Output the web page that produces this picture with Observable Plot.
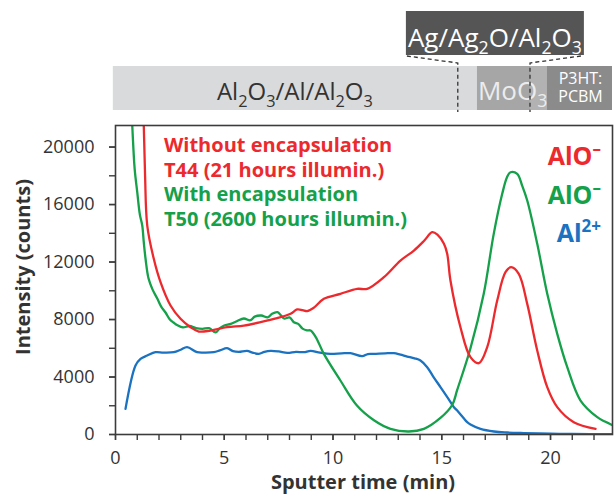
<!DOCTYPE html>
<html><head><meta charset="utf-8">
<script src="https://cdn.jsdelivr.net/npm/d3@7"></script>
<script src="https://cdn.jsdelivr.net/npm/@observablehq/plot@0.6"></script>
<style>
body{margin:0;background:#fff;font-family:"Open Sans",sans-serif;}
#wrap{width:614px;height:496px;}
svg{display:block}
</style></head><body><div id="wrap"></div>
<script>
// ---------- data ----------
const redT = [1.22,1.30,1.36,1.46,1.76,2.07,2.53,2.99,3.45,3.83,4.37,5.13,5.9,6.67,7.43,8.05,8.35,8.6,8.81,9.1,9.58,10.34,11.11,11.57,12.34,13.1,13.72,14.2,14.56,14.8,15.1,15.25,15.4,15.86,16.32,16.71,17.09,17.55,17.93,18.19,18.54,18.93,19.39,19.85,20.31,21.07,22.07];
const redI = [25000,21500,18000,14540,12225,10600,8975,8050,7465,7165,7235,7465,7583,7813,8091,8400,8700,8650,8580,8800,9440,9788,10134,10134,10946,12105,12800,13500,14075,13900,13265,12570,10714,7465,5380,4963,6075,9322,11290,11640,11180,9090,5844,3293,1902,858,394];

const greenT = [0.72,0.77,0.88,1.0,1.12,1.23,1.3,1.38,1.52,1.7,1.92,2.1,2.3,2.5,2.67,2.85,3.1,3.4,3.7,4.0,4.3,4.6,4.8,5.0,5.3,5.6,5.9,6.2,6.4,6.7,7.0,7.2,7.45,7.6,7.75,8.0,8.2,8.4,8.6,8.8,8.97,9.2,9.58,10.34,11.1,11.9,12.64,13.49,14.18,14.94,15.48,15.71,16.32,16.93,17.39,17.78,18.0,18.16,18.47,18.7,18.93,19.39,19.85,20.31,20.77,21.38,22.15,22.5,22.85];
const greenI = [23000,21500,18500,16860,15300,14540,13380,12245,10850,10100,9460,8900,8490,8000,7790,7600,7450,7550,7400,7350,7400,7100,7400,7580,7700,7900,8070,7950,8200,8280,8150,8400,8510,8300,8070,8150,7810,7700,7370,7250,7235,6800,5610,3757,2017,974,394,209,394,1150,2050,3100,6000,9788,13960,16745,17900,18250,18135,17300,16280,13265,9790,7005,4685,2365,1205,900,650];

const blueT = [0.46,0.92,1.15,1.46,1.84,2.2,2.68,3.0,3.29,3.75,4.1,4.52,4.8,5.13,5.4,5.67,6.05,6.3,6.59,6.85,7.13,7.5,7.9,8.3,8.66,8.97,9.4,9.88,10.4,10.8,11.34,11.6,11.88,12.4,12.8,13.1,13.41,13.75,14.02,14.33,14.6,14.94,15.3,15.56,15.71,16.0,16.17,16.32,16.78,17.4,18.0,18.77,20,21,22.85];
const blueI = [1785,4800,5265,5496,5728,5700,5728,5900,6075,5728,5700,5728,5850,6006,5800,5750,5820,5700,5610,5750,5820,5780,5680,5750,5728,5820,5700,5610,5650,5660,5450,5600,5610,5650,5660,5550,5426,5300,5148,4685,4050,3300,2500,1902,1670,1150,858,696,394,209,140,100,60,40,20];

const xMajor = [0,5,10,15,20];
const xMinor = d3.range(0, 23, 1);
const yMajor = [0,4000,8000,12000,16000,20000];
const yMinor = d3.range(0, 21000, 2000);

const layerNames = ["Al_{2}O_{3}/Al/Al_{2}O_{3}", "MoO_{3}", "P3HT:|PCBM"];
const layerStart = [-0.1, 16.64, 19.86];
const layerEnd = [16.64, 19.86, 22.85];
const interfaces = [15.76, 19.08];
const calloutLabel = "Ag/Ag_{2}O/Al_{2}O_{3}";

const legendLines = ["Without encapsulation", "T44 (21 hours illumin.)", "With encapsulation", "T50 (2600 hours illumin.)"];
const seriesLabels = ["AlO^{–}", "AlO^{–}", "Al^{2+}"];

// ---------- styles ----------
const RED = "#ec2a2e", GREEN = "#15a04a", BLUE = "#1a72c0", AX = "#3c3c3c";
const FONT = "'Open Sans', sans-serif";

const toRows = (T, V) => T.map((t, i) => ({t, v: V[i]}));
const red = toRows(redT, redI), green = toRows(greenT, greenI), blue = toRows(blueT, blueI);

const W = 614, HEAD = 124, H = 372;
const xDomain = [0, 22.85];

const plot = Plot.plot({
  width: W, height: H,
  marginTop: 1, marginLeft: 115, marginRight: 2, marginBottom: 62,
  style: {fontFamily: FONT, fontSize: "18px", color: AX, background: "transparent", overflow: "visible"},
  x: {domain: xDomain},
  y: {domain: [0, 21500]},
  marks: [
    Plot.axisX({ticks: xMinor, tickSize: 6, fill: "none", stroke: AX, strokeWidth: 1.4, label: null}),
    Plot.axisX({ticks: xMajor, tickSize: 6, tickPadding: 11, stroke: AX, strokeWidth: 1.4, fill: "#333", label: null, tickFormat: d3.format("d")}),
    Plot.axisY({ticks: yMinor, tickSize: 6, fill: "none", stroke: AX, strokeWidth: 1.4, label: null}),
    Plot.axisY({ticks: yMajor, tickSize: 6, tickPadding: 15, stroke: AX, strokeWidth: 1.4, fill: "#333", label: null, tickFormat: d3.format("d")}),
    Plot.line(blue, {x: "t", y: "v", stroke: BLUE, strokeWidth: 2.3, curve: "catmull-rom", clip: true}),
    Plot.line(green, {x: "t", y: "v", stroke: GREEN, strokeWidth: 2.3, curve: "catmull-rom", clip: true}),
    Plot.line(red, {x: "t", y: "v", stroke: RED, strokeWidth: 2.3, curve: "catmull-rom", clip: true}),
    Plot.frame({stroke: AX, strokeWidth: 1.6})
  ]
});

// rich text helper: _{..} subscript, ^{..} superscript
function rich(g, str, x, y, size, attrs = {}) {
  const t = g.append("text").attr("x", x).attr("y", y).attr("font-size", size).attr("font-family", FONT);
  for (const k in attrs) t.attr(k, attrs[k]);
  let shift = 0;
  const parts = str.match(/[_^]\{[^}]*\}|[^_^]+/g);
  for (const p of parts) {
    let target = 0, txt = p, fs = size;
    if (p[0] === "_") { target = size * 0.28; txt = p.slice(2, -1); fs = size * 0.68; }
    else if (p[0] === "^") { target = -size * 0.4; txt = p.slice(2, -1); fs = size * 0.68; }
    t.append("tspan").attr("dy", target - shift).attr("font-size", fs).text(txt);
    shift = target;
  }
  return t;
}

// annotations on the main plot
const svg = d3.select(plot);
const ann = svg.append("g").attr("text-anchor", "start");
const legendColors = [RED, RED, GREEN, GREEN];
legendLines.forEach((s, i) => {
  ann.append("text").attr("x", 164).attr("y", [28, 53, 77, 102][i]).attr("text-anchor", "start")
    .attr("font-family", FONT).attr("font-size", 20).attr("font-weight", "bold")
    .attr("fill", legendColors[i]).text(s);
});
const labelColors = [RED, GREEN, BLUE];
seriesLabels.forEach((s, i) => {
  rich(ann, s, 601, [41, 80, 118][i], 25, {"font-weight": "bold", "fill": labelColors[i], "text-anchor": "end"});
});
ann.append("text").attr("x", 363).attr("y", 365).attr("text-anchor", "middle")
  .attr("font-family", FONT).attr("font-size", 20).attr("font-weight", "bold").attr("fill", "#333")
  .text("Sputter time (min)");
ann.append("text").attr("transform", "translate(30,143) rotate(-90)").attr("text-anchor", "middle")
  .attr("font-family", FONT).attr("font-size", 20).attr("font-weight", "bold").attr("fill", "#333")
  .text("Intensity (counts)");

// ---------- header (layer stack) ----------
const xs = d3.scaleLinear().domain(xDomain).range([115, W - 2]);
const head = d3.create("svg").attr("width", W).attr("height", HEAD);
const barTop = 66, barBot = 110;
const layerFill = ["#d9dadb", "#a6a6a6", "#8b8b8b"];
layerNames.forEach((n, i) => {
  head.append("rect").attr("x", xs(layerStart[i])).attr("y", barTop)
    .attr("width", xs(layerEnd[i]) - xs(layerStart[i])).attr("height", barBot - barTop).attr("fill", layerFill[i]);
});
head.append("rect").attr("x", xs(interfaces[1])).attr("y", barTop)
  .attr("width", xs(layerStart[2]) - xs(interfaces[1])).attr("height", barBot - barTop).attr("fill", "#b2b2b2");
rich(head, layerNames[0], (xs(layerStart[0]) + xs(layerStart[1])) / 2, 100, 24, {"fill": "#333", "text-anchor": "middle"});
rich(head, layerNames[1], xs(layerStart[1]) + 1, 100, 26, {"fill": "#ececec", "text-anchor": "start"});
const pl = layerNames[2].split("|");
const pcx = (xs(layerStart[2]) + xs(layerEnd[2])) / 2 + 1;
head.append("text").attr("x", pcx).attr("y", 84).attr("text-anchor", "middle").attr("font-family", FONT)
  .attr("font-size", 16).attr("fill", "#fff").text(pl[0]);
head.append("text").attr("x", pcx).attr("y", 102).attr("text-anchor", "middle").attr("font-family", FONT)
  .attr("font-size", 16).attr("fill", "#fff").text(pl[1]);

// callout box
const cx = (xs(interfaces[0]) + xs(interfaces[1])) / 2 + 1;
const bw = 178, bTop = 11, bBot = 55;
head.append("rect").attr("x", cx - bw / 2).attr("y", bTop).attr("width", bw).attr("height", bBot - bTop).attr("fill", "#555556");
rich(head, calloutLabel, cx, 47, 26, {"fill": "#fff", "text-anchor": "middle"});
const dash = {"stroke": "#333", "stroke-width": 1.3, "stroke-dasharray": "4,3", "fill": "none"};
const p1 = head.append("path").attr("d", `M${cx - bw / 2 + 1},${bBot + 1}L${xs(interfaces[0])},63L${xs(interfaces[0])},112`);
const p2 = head.append("path").attr("d", `M${cx + bw / 2 - 3},${bBot + 1}L${xs(interfaces[1])},63L${xs(interfaces[1])},112`);
for (const k in dash) { p1.attr(k, dash[k]); p2.attr(k, dash[k]); }

const wrap = document.getElementById("wrap");
wrap.appendChild(head.node());
wrap.appendChild(plot);
</script>
</body></html>
